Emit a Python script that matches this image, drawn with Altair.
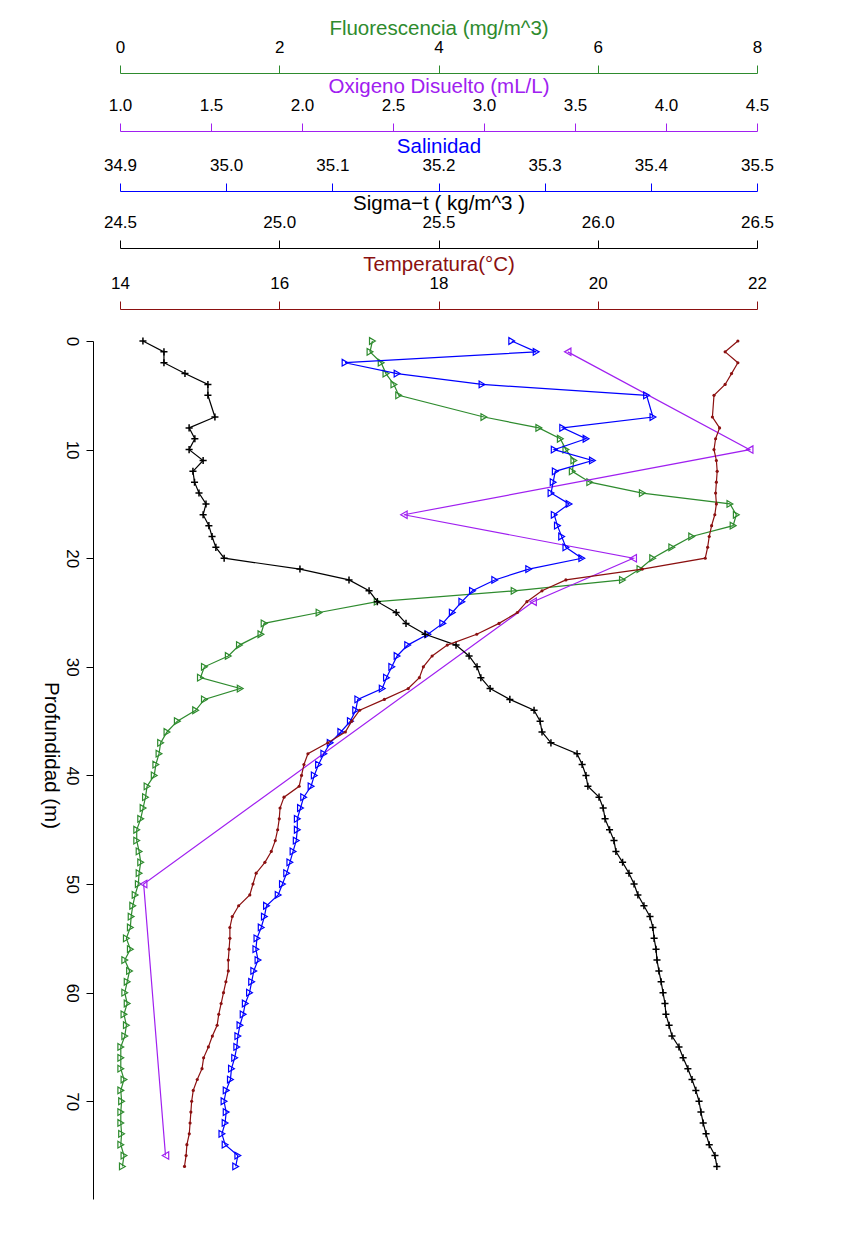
import altair as alt
import pandas as pd

# CTD cast: depth levels (m); no record at 6 m
DEPTH = [0, 1, 2, 3, 4, 5] + list(range(7, 77))

FLUOR = [3.17, 3.14, 3.28, 3.34, 3.44, 3.50,
         4.57, 5.26, 5.53, 5.60, 5.70, 5.68, 5.90, 6.56, 7.66, 7.74,
         7.70, 7.18, 6.93, 6.69, 6.53, 6.31, 4.95, 3.23, 2.50, 1.81,
         1.77, 1.50, 1.36, 1.06, 1.01, 1.51, 1.06, 0.95, 0.72, 0.59,
         0.51, 0.49, 0.45, 0.43, 0.34, 0.32, 0.29, 0.26, 0.21, 0.21,
         0.24, 0.26, 0.24, 0.23, 0.19, 0.16, 0.14, 0.13, 0.08, 0.13,
         0.06, 0.12, 0.09, 0.06, 0.09, 0.05, 0.08, 0.06, 0.01, 0.01,
         0.01, 0.05, 0.01, 0.02, 0.01, 0.01, 0.02, 0.01, 0.05, 0.03]

SALINITY = [35.269, 35.292, 35.112, 35.161, 35.241, 35.396,
            35.402, 35.317, 35.339, 35.309, 35.345, 35.310, 35.308, 35.306,
            35.323, 35.309, 35.312, 35.316, 35.320, 35.335, 35.285, 35.253,
            35.232, 35.222, 35.213, 35.204, 35.190, 35.171, 35.161, 35.156,
            35.151, 35.147, 35.124, 35.122, 35.117, 35.108, 35.098, 35.092,
            35.087, 35.083, 35.080, 35.073, 35.070, 35.067, 35.067, 35.066,
            35.063, 35.060, 35.057, 35.053, 35.049, 35.038, 35.036, 35.033,
            35.029, 35.028, 35.030, 35.026, 35.024, 35.022, 35.018, 35.016,
            35.013, 35.011, 35.010, 35.008, 35.005, 35.004, 35.000, 34.998,
            35.000, 34.999, 34.996, 34.999, 35.011, 35.009]

SIGMA_T = [24.572, 24.638, 24.638, 24.704, 24.776, 24.776,
           24.798, 24.717, 24.735, 24.717, 24.761, 24.729, 24.734, 24.748,
           24.770, 24.761, 24.779, 24.789, 24.801, 24.827, 25.065, 25.219,
           25.282, 25.308, 25.367, 25.398, 25.458, 25.555, 25.596, 25.621,
           25.633, 25.662, 25.724, 25.800, 25.819, 25.825, 25.853, 25.935,
           25.951, 25.963, 25.969, 26.004, 26.017, 26.023, 26.037, 26.051,
           26.057, 26.078, 26.098, 26.114, 26.126, 26.145, 26.164, 26.173,
           26.177, 26.183, 26.186, 26.192, 26.199, 26.205, 26.211, 26.214,
           26.224, 26.233, 26.255, 26.268, 26.283, 26.296, 26.308, 26.318,
           26.324, 26.331, 26.340, 26.350, 26.368, 26.374]

TEMPERATURE = [21.76, 21.60, 21.76, 21.68, 21.60, 21.46,
               21.44, 21.53, 21.48, 21.46, 21.49, 21.50, 21.49, 21.48,
               21.49, 21.47, 21.43, 21.40, 21.38, 21.35, 20.56, 19.60,
               19.30, 19.11, 18.99, 18.76, 18.48, 18.11, 17.92, 17.81,
               17.76, 17.62, 17.32, 17.01, 16.91, 16.83, 16.61, 16.36,
               16.31, 16.28, 16.25, 16.06, 16.01, 16.00, 15.98, 15.95,
               15.90, 15.82, 15.71, 15.67, 15.63, 15.49, 15.41, 15.38,
               15.38, 15.37, 15.36, 15.36, 15.33, 15.30, 15.27, 15.24,
               15.22, 15.16, 15.11, 15.05, 15.03, 14.97, 14.92, 14.90,
               14.89, 14.88, 14.87, 14.84, 14.83, 14.81]

# Dissolved oxygen from bottle samples
OXY_DEPTH = [1, 10, 16, 20, 24, 50, 75]
OXYGEN = [3.46, 4.46, 2.56, 3.82, 3.27, 1.13, 1.25]

GREEN = "#2e8b2e"
PURPLE = "#a020f0"
BLUE = "#0000ff"
BLACK = "#000000"
DARKRED = "#8b1010"

FONT = "Liberation Sans"
PLUS = "M-1,0H1M0,-1V1"
TITLE_SIZE = 20.5
LABEL_SIZE = 17

y_enc = alt.Y(
    "depth:Q",
    scale=alt.Scale(domain=[0, 79], reverse=True, nice=False, zero=False),
    axis=alt.Axis(
        values=[0, 10, 20, 30, 40, 50, 60, 70], offset=27, tickSize=7,
        labelAngle=90, labelAlign="center", labelBaseline="middle",
        labelPadding=15, labelFontSize=LABEL_SIZE, labelColor="black",
        title="Profundidad (m)", titleAngle=90, titleAlign="center",
        titleBaseline="middle", titleX=-43, titleY=414,
        titleFontSize=TITLE_SIZE, titleFontWeight="normal",
        titleColor="black", domainColor="black", tickColor="black",
        grid=False,
    ),
)


def top_axis(title, color, offset, values, fmt):
    return alt.Axis(
        orient="top", offset=offset, values=values, format=fmt,
        tickSize=8, labelPadding=13, labelBaseline="alphabetic",
        labelFontSize=LABEL_SIZE, labelColor="black", labelFlush=False,
        labelOverlap=False, title=title, titleY=-39,
        titleBaseline="alphabetic", titleFontSize=TITLE_SIZE,
        titleFontWeight="normal", titleColor=color,
        domainColor=color, tickColor=color, grid=False,
    )


def profile(depths, values, domain, axis, color, point):
    df = pd.DataFrame({"depth": depths, "value": values})
    return alt.Chart(df).mark_line(
        color=color, strokeWidth=1.2, point=point
    ).encode(
        x=alt.X("value:Q", scale=alt.Scale(domain=domain, nice=False, zero=False), axis=axis),
        y=y_enc,
        order=alt.Order("depth:Q"),
    )


fluor = profile(
    DEPTH, FLUOR, [0, 8],
    top_axis("Fluorescencia (mg/m^3)", GREEN, 268, [0, 2, 4, 6, 8], "d"),
    GREEN,
    alt.OverlayMarkDef(shape="triangle-right", filled=False, size=45, color=GREEN, strokeWidth=1.2),
)
oxy = profile(
    OXY_DEPTH, OXYGEN, [1.0, 4.5],
    top_axis("Oxigeno Disuelto (mL/L)", PURPLE, 210,
             [1.0, 1.5, 2.0, 2.5, 3.0, 3.5, 4.0, 4.5], ".1f"),
    PURPLE,
    alt.OverlayMarkDef(shape="triangle-left", filled=False, size=55, color=PURPLE, strokeWidth=1.2),
)
sal = profile(
    DEPTH, SALINITY, [34.9, 35.5],
    top_axis("Salinidad", BLUE, 150,
             [34.9, 35.0, 35.1, 35.2, 35.3, 35.4, 35.5], ".1f"),
    BLUE,
    alt.OverlayMarkDef(shape="triangle-right", filled=False, size=45, color=BLUE, strokeWidth=1.2),
)
sig = profile(
    DEPTH, SIGMA_T, [24.5, 26.5],
    top_axis("Sigma\u2212t ( kg/m^3 )", BLACK, 93,
             [24.5, 25.0, 25.5, 26.0, 26.5], ".1f"),
    BLACK,
    alt.OverlayMarkDef(shape=PLUS, filled=False, size=50, color=BLACK, strokeWidth=1.5),
)
temp = profile(
    DEPTH, TEMPERATURE, [14, 22],
    top_axis("Temperatura(\u00b0C)", DARKRED, 32, [14, 16, 18, 20, 22], "d"),
    DARKRED,
    alt.OverlayMarkDef(shape="circle", filled=True, size=10, color=DARKRED),
)

chart = alt.layer(fluor, oxy, sal, sig, temp).resolve_scale(
    x="independent"
).properties(
    width=637, height=858,
    padding={"left": 120, "top": 341, "right": 84, "bottom": 60},
    autosize="none",
    background="white",
).configure_view(stroke=None).configure_axis(
    labelFont=FONT, titleFont=FONT
)

chart.save("out.html", embed_options={"renderer": "svg", "actions": False})
